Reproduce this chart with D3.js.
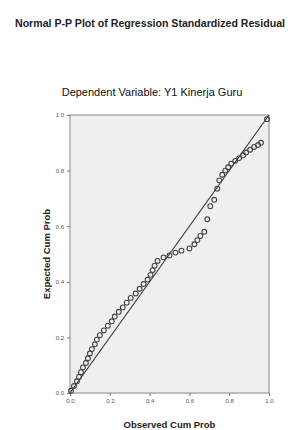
<!DOCTYPE html>
<html>
<head>
<meta charset="utf-8">
<script src="https://cdn.jsdelivr.net/npm/d3@7"></script>
<style>
  body { margin: 0; background: #fff; }
  svg { display: block; font-family: "Liberation Sans", Arial, sans-serif; }
</style>
</head>
<body>
<div id="chart"></div>
<script>
// observed vs expected cumulative probabilities
var observed = [0.005, 0.02, 0.035, 0.045, 0.055, 0.065, 0.08, 0.09, 0.10, 0.11,
  0.125, 0.135, 0.15, 0.17, 0.19, 0.21, 0.225, 0.245, 0.265, 0.285,
  0.305, 0.33, 0.35, 0.37, 0.39, 0.405, 0.415, 0.425, 0.44, 0.47,
  0.50, 0.53, 0.56, 0.60, 0.625, 0.64, 0.655, 0.675, 0.69, 0.705,
  0.725, 0.74, 0.75, 0.765, 0.78, 0.795, 0.81, 0.83, 0.85, 0.87,
  0.885, 0.905, 0.925, 0.945, 0.96, 0.99];
var expected = [0.008, 0.025, 0.042, 0.058, 0.075, 0.092, 0.108, 0.125, 0.142, 0.158,
  0.175, 0.192, 0.208, 0.225, 0.242, 0.258, 0.275, 0.292, 0.308, 0.325,
  0.342, 0.358, 0.375, 0.392, 0.408, 0.425, 0.442, 0.458, 0.475, 0.488,
  0.495, 0.505, 0.512, 0.52, 0.535, 0.55, 0.565, 0.58, 0.625, 0.672,
  0.695, 0.735, 0.765, 0.785, 0.80, 0.812, 0.825, 0.835, 0.845, 0.855,
  0.865, 0.875, 0.885, 0.892, 0.90, 0.985];
var tickValues = [0.0, 0.2, 0.4, 0.6, 0.8, 1.0];

var width = 294, height = 430;
var plotLeft = 70, plotRight = 269, plotTop = 115, plotBottom = 393;

var svg = d3.select("#chart").append("svg")
    .attr("width", width).attr("height", height);

var x = d3.scaleLinear().domain([0, 1]).range([plotLeft, plotRight]);
var y = d3.scaleLinear().domain([0, 1]).range([plotBottom, plotTop]);

// titles
svg.append("text").attr("x", 150).attr("y", 27)
    .attr("text-anchor", "middle").attr("font-size", "10.6px").attr("font-weight", "bold")
    .attr("fill", "#222")
    .text("Normal P-P Plot of Regression Standardized Residual");
svg.append("text").attr("x", 152).attr("y", 96)
    .attr("text-anchor", "middle").attr("font-size", "11px")
    .attr("fill", "#111")
    .text("Dependent Variable: Y1 Kinerja Guru");

// plot background
svg.append("rect").attr("x", plotLeft).attr("y", plotTop)
    .attr("width", plotRight - plotLeft).attr("height", plotBottom - plotTop)
    .attr("fill", "#efefef").attr("stroke", "#9a9a9a").attr("stroke-width", 1.2);

// axes
var xAxis = svg.append("g").attr("transform", "translate(0," + plotBottom + ")")
    .call(d3.axisBottom(x).tickValues(tickValues).tickFormat(d3.format(".1f")).tickSize(3));
var yAxis = svg.append("g").attr("transform", "translate(" + plotLeft + ",0)")
    .call(d3.axisLeft(y).tickValues(tickValues).tickFormat(d3.format(".1f")).tickSize(3));
[xAxis, yAxis].forEach(function(a) {
    a.select(".domain").remove();
    a.selectAll("line").attr("stroke", "#777");
    a.selectAll("text").attr("font-size", "6px").attr("fill", "#555")
        .attr("font-family", "Liberation Sans, Arial, sans-serif");
});

// reference line
svg.append("line")
    .attr("x1", x(0)).attr("y1", y(0)).attr("x2", x(1)).attr("y2", y(1))
    .attr("stroke", "#333").attr("stroke-width", 1.1);

// points
svg.append("g").selectAll("circle").data(observed).enter().append("circle")
    .attr("cx", function(d) { return x(d); })
    .attr("cy", function(d, i) { return y(expected[i]); })
    .attr("r", 2.4)
    .attr("fill", "none").attr("stroke", "#444").attr("stroke-width", 1.1);

// axis labels
svg.append("text").attr("x", (plotLeft + plotRight) / 2).attr("y", 428)
    .attr("text-anchor", "middle").attr("font-size", "9.5px").attr("font-weight", "bold")
    .attr("fill", "#222").text("Observed Cum Prob");
svg.append("text")
    .attr("transform", "translate(50," + ((plotTop + plotBottom) / 2) + ") rotate(-90)")
    .attr("text-anchor", "middle").attr("font-size", "9.5px").attr("font-weight", "bold")
    .attr("fill", "#222").text("Expected Cum Prob");
</script>
</body>
</html>
